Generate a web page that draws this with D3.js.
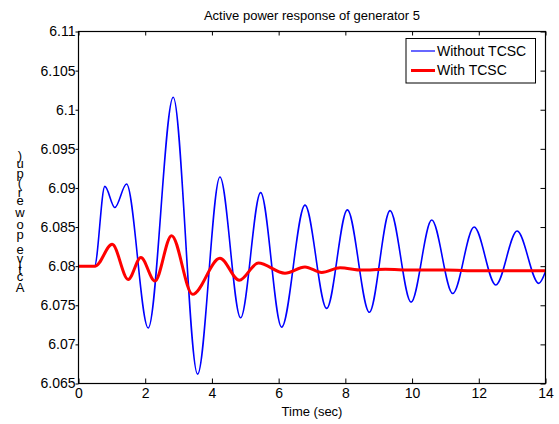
<!DOCTYPE html>
<html>
<head>
<meta charset="utf-8">
<script src="https://cdn.jsdelivr.net/npm/d3@7"></script>
<style>
  body { margin: 0; background: #fff; }
  text { font-family: "Liberation Sans", Arial, sans-serif; fill: #000; }
</style>
</head>
<body>
<div id="chart"></div>
<script>
// values (time in sec, active power in pu)
const blueTime = [0, 0.48, 0.79, 1.09, 1.44, 2.09, 2.84, 3.57, 4.24, 4.86, 5.46, 6.09, 6.79, 7.44,
  8.06, 8.72, 9.34, 9.97, 10.59, 11.22, 11.86, 12.51, 13.15, 13.80, 14.0];
const blueValue = [6.08, 6.08, 6.0902, 6.0875, 6.0905, 6.0721, 6.1016, 6.0662, 6.0914, 6.0734, 6.0894,
  6.0722, 6.0878, 6.0746, 6.0872, 6.0741, 6.0871, 6.0754, 6.0859, 6.0765, 6.0850, 6.0776, 6.0845,
  6.0778, 6.0793];
const redTime = [0, 0.5, 1.01, 1.49, 1.87, 2.29, 2.79, 3.42, 4.24, 4.82, 5.39, 6.19, 6.79, 7.29,
  7.84, 8.5, 9.2, 10, 11, 12, 13, 14];
const redValue = [6.08, 6.08, 6.0828, 6.0783, 6.0811, 6.0781, 6.0839, 6.0764, 6.0810, 6.0782, 6.0804,
  6.0791, 6.0799, 6.0792, 6.0798, 6.0795, 6.0796, 6.0795, 6.0795, 6.0794, 6.0794, 6.0794];
const xTicks = [0, 2, 4, 6, 8, 10, 12, 14];
const yTicks = [6.065, 6.07, 6.075, 6.08, 6.085, 6.09, 6.095, 6.1, 6.105, 6.11];
const seriesNames = ["Without TCSC", "With TCSC"];
const seriesColors = ["#0000ff", "#ff0000"];

const width = 559, height = 424;
const margin = { top: 31.5, right: 13.5, bottom: 40.5, left: 78.5 };
const innerWidth = width - margin.left - margin.right;
const innerHeight = height - margin.top - margin.bottom;

const svgRoot = d3.select("#chart").append("svg")
    .attr("width", width)
    .attr("height", height);
const svg = svgRoot.append("g")
    .attr("transform", `translate(${margin.left},${margin.top})`);

const x = d3.scaleLinear().domain([0, 14]).range([0, innerWidth]);
const y = d3.scaleLinear().domain([6.065, 6.11]).range([innerHeight, 0]);

const fmt = d => String(+d.toFixed(3));

// clip the curves to the axes box
svg.append("clipPath").attr("id", "clip")
    .append("rect").attr("width", innerWidth).attr("height", innerHeight);

const line = d3.line()
    .x(d => x(d[0]))
    .y(d => y(d[1]))
    .curve(d3.curveMonotoneX);

const blueData = blueTime.map((t, i) => [t, blueValue[i]]);
const redData = redTime.map((t, i) => [t, redValue[i]]);

svg.append("path")
    .datum(blueData)
    .attr("clip-path", "url(#clip)")
    .attr("fill", "none")
    .attr("stroke", seriesColors[0])
    .attr("stroke-width", 1.6)
    .attr("d", line);

svg.append("path")
    .datum(redData)
    .attr("clip-path", "url(#clip)")
    .attr("fill", "none")
    .attr("stroke", seriesColors[1])
    .attr("stroke-width", 3)
    .attr("d", line);

// bottom axis, ticks inside
const xAxis = svg.append("g")
    .attr("transform", `translate(0,${innerHeight})`)
    .call(d3.axisBottom(x).tickValues(xTicks).tickFormat(d3.format("d")).tickSizeInner(-5).tickSizeOuter(0).tickPadding(4));
xAxis.selectAll("text").style("font-size", "14px").attr("dy", "0.75em").attr("y", 4);

// top axis, ticks only
const topAxis = svg.append("g")
    .call(d3.axisTop(x).tickValues(xTicks).tickSizeInner(-4).tickSizeOuter(0));
topAxis.selectAll("text").remove();

// left axis, ticks outside
const yAxis = svg.append("g")
    .call(d3.axisLeft(y).tickValues(yTicks).tickFormat(fmt).tickSizeInner(3).tickSizeOuter(0).tickPadding(0));
yAxis.selectAll("text").style("font-size", "14px");

// right axis, ticks inside
const rightAxis = svg.append("g")
    .attr("transform", `translate(${innerWidth},0)`)
    .call(d3.axisRight(y).tickValues(yTicks).tickSizeInner(-5).tickSizeOuter(0));
rightAxis.selectAll("text").remove();

svg.selectAll(".domain").remove();
svg.append("rect")
    .attr("width", innerWidth)
    .attr("height", innerHeight)
    .attr("fill", "none")
    .attr("stroke", "#000")
    .attr("stroke-width", 1.2);
svg.selectAll(".tick line").attr("stroke", "#000");

// title
svgRoot.append("text")
    .attr("x", margin.left + innerWidth / 2)
    .attr("y", 20)
    .attr("text-anchor", "middle")
    .style("font-size", "13px")
    .text("Active power response of generator 5");

// x label
svgRoot.append("text")
    .attr("x", margin.left + innerWidth / 2)
    .attr("y", 416)
    .attr("text-anchor", "middle")
    .style("font-size", "13px")
    .text("Time (sec)");

// y label: upright letters stacked bottom to top, like the original export
const yLabel = "Active power (pu)";
const probe = svgRoot.append("text").style("font-size", "18px").text(yLabel);
const charCenters = yLabel.split("").map((c, i) =>
    probe.node().getSubStringLength(0, i) + probe.node().getSubStringLength(i, 1) / 2);
probe.remove();
const labelBottom = 287;
svgRoot.append("g").selectAll("text")
    .data(yLabel.split(""))
    .join("text")
    .attr("x", 20)
    .attr("y", (c, i) => labelBottom - (charCenters[i] - charCenters[0]))
    .attr("dy", "0.35em")
    .attr("text-anchor", "middle")
    .style("font-size", "13px")
    .text(c => c);

// legend
const legend = svgRoot.append("g").attr("transform", "translate(406,38.5)");
legend.append("rect")
    .attr("width", 129.5)
    .attr("height", 44.5)
    .attr("fill", "#fff")
    .attr("stroke", "#000")
    .attr("stroke-width", 1);
seriesNames.forEach((name, i) => {
    const ly = 12.5 + i * 19.5;
    legend.append("line")
        .attr("x1", 5).attr("x2", 29)
        .attr("y1", ly).attr("y2", ly)
        .attr("stroke", seriesColors[i])
        .attr("stroke-width", i === 0 ? 1.2 : 3);
    legend.append("text")
        .attr("x", 31)
        .attr("y", ly)
        .attr("dy", "0.35em")
        .style("font-size", "14px")
        .text(name);
});
</script>
</body>
</html>
